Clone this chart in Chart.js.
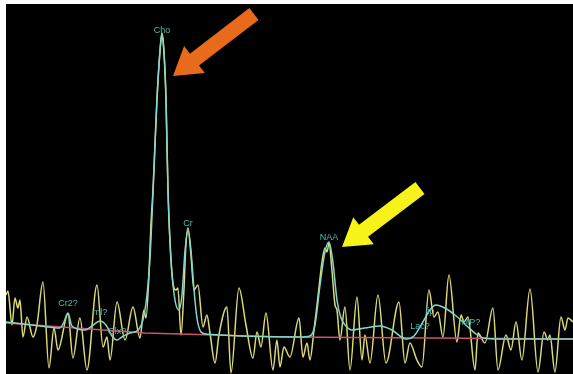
<!DOCTYPE html>
<html>
<head>
<meta charset="utf-8">
<script src="https://cdn.jsdelivr.net/npm/chart.js@4.4.1/dist/chart.umd.min.js"></script>
<style>
  html, body { margin: 0; padding: 0; background: #fff; }
  #wrap { position: absolute; left: 6px; top: 4px; width: 567px; height: 370px; background: #000; }
</style>
</head>
<body>
<div id="wrap"><canvas id="spectro" width="567" height="370"></canvas></div>
<script>
// spectrum, chemical shift in ppm (axis runs high -> low)
const rawPpm = [4.314, 4.300, 4.271, 4.250, 4.229, 4.214, 4.193, 4.164, 4.121, 4.093, 4.050, 4.007, 3.971, 3.943, 3.871, 3.836, 3.786, 3.736, 3.664, 3.621, 3.593, 3.571, 3.521, 3.464, 3.407, 3.357, 3.329, 3.314, 3.293, 3.279, 3.264, 3.250, 3.236, 3.221, 3.207, 3.200, 3.193, 3.179, 3.171, 3.164, 3.157, 3.143, 3.121, 3.100, 3.086, 3.064, 3.043, 3.029, 3.014, 2.993, 2.971, 2.943, 2.907, 2.879, 2.857, 2.821, 2.793, 2.736, 2.707, 2.650, 2.600, 2.550, 2.521, 2.493, 2.457, 2.407, 2.379, 2.357, 2.329, 2.286, 2.221, 2.193, 2.164, 2.143, 2.114, 2.086, 2.057, 2.036, 2.021, 2.007, 1.986, 1.964, 1.950, 1.929, 1.893, 1.857, 1.807, 1.771, 1.750, 1.714, 1.657, 1.600, 1.507, 1.464, 1.429, 1.379, 1.343, 1.293, 1.257, 1.229, 1.193, 1.150, 1.093, 1.064, 1.043, 1.014, 0.964, 0.943, 0.893, 0.836, 0.800, 0.743, 0.707, 0.671, 0.629, 0.571, 0.514, 0.471, 0.443, 0.429, 0.393, 0.350, 0.321, 0.300, 0.264];
const rawAmp = [44, 48, 14, 41, 31, 39, 2, 22, 2, 14, 57, -29, 11, -11, 25, -19, 21, -31, 54, -8, 2, -21, 37, -1, 32, 1, 29, 21, 64, 114, 149, 194, 239, 274, 299, 306, 299, 269, 239, 194, 149, 99, 56, 49, 51, 4, 49, 94, 111, 84, 49, 54, 12, 24, 6, -24, 4, 32, -34, 51, 14, -19, 7, -8, 26, -31, -1, -28, -8, -18, 21, -18, -4, -21, 9, 42, 77, 91, 87, 96, 69, 34, 29, -1, 32, -31, 42, -21, 4, -24, 44, -24, 37, -24, -4, -21, -28, 49, 22, 27, 2, 64, -3, 24, 17, 22, -31, 6, -4, 31, -31, 4, -11, 17, -21, 50, -33, 7, -1, 4, -33, 22, 9, 21, 17];

// fitted model
const fitPpm = [4.314, 4.071, 3.929, 3.900, 3.871, 3.843, 3.750, 3.700, 3.643, 3.600, 3.557, 3.521, 3.486, 3.429, 3.371, 3.336, 3.307, 3.286, 3.264, 3.236, 3.214, 3.200, 3.186, 3.171, 3.157, 3.136, 3.107, 3.079, 3.057, 3.036, 3.014, 2.993, 2.971, 2.950, 2.921, 2.886, 2.786, 2.643, 2.214, 2.143, 2.107, 2.071, 2.036, 2.007, 1.979, 1.950, 1.921, 1.886, 1.843, 1.750, 1.643, 1.557, 1.457, 1.400, 1.336, 1.286, 1.243, 1.179, 1.107, 1.014, 0.957, 0.900, 0.786, 0.264];
const fitAmp = [17, 13, 11, 17, 26, 13, 9, 13, 18, 14, 3, -1, 2, 6, 9, 19, 44, 79, 146, 239, 289, 305, 289, 239, 149, 79, 39, 29, 44, 87, 109, 89, 49, 21, 7, 5, 4, 3, 2, 3, 14, 54, 87, 97, 77, 39, 21, 13, 9, 11, 13, 9, 0, 3, 17, 29, 34, 31, 24, 12, 5, 1, 0, 0];

// baseline
const basePpm = [4.314, 3.321, 2.321, 0.264];
const baseAmp = [16, 6, 2, 0];

// metabolite labels
const peakNames = ["Cho", "Cr", "NAA", "Cr2?", "ml?", "Glx?", "lip", "Lac?", "MP?"];
const peakPpm = [3.200, 3.014, 2.007, 3.871, 3.643, 3.521, 1.286, 1.357, 0.993];
const peakAmp = [308, 115, 101, 35, 26, 7, 27, 12, 16];

// arrows: tail -> tip
const arrowTail = [[2.543, 325], [1.357, 151]];
const arrowTip = [[3.121, 263], [1.914, 92]];
const arrowColors = ["#ea6a1c", "#f7f21a"];

const toXY = (xs, ys) => xs.map((x, i) => ({ x: x, y: ys[i] }));

const overlay = {
  id: "overlay",
  afterDatasetsDraw(chart) {
    const { ctx, scales } = chart;
    const sx = scales.x, sy = scales.y;
    ctx.save();
    ctx.font = "9px 'Liberation Sans', Arial, sans-serif";
    ctx.fillStyle = "#4fbcb6";
    ctx.textAlign = "center";
    ctx.textBaseline = "middle";
    peakNames.forEach((n, i) => {
      ctx.fillText(n, sx.getPixelForValue(peakPpm[i]), sy.getPixelForValue(peakAmp[i]));
    });
    arrowTail.forEach((t, i) => {
      const x0 = sx.getPixelForValue(t[0]), y0 = sy.getPixelForValue(t[1]);
      const x1 = sx.getPixelForValue(arrowTip[i][0]), y1 = sy.getPixelForValue(arrowTip[i][1]);
      const len = Math.hypot(x1 - x0, y1 - y0);
      const ux = (x1 - x0) / len, uy = (y1 - y0) / len;
      const nx = -uy, ny = ux;
      const shaft = 7.5, head = 17, headLen = 27;
      const bx = x1 - ux * headLen, by = y1 - uy * headLen;
      ctx.beginPath();
      ctx.moveTo(x0 + nx * shaft, y0 + ny * shaft);
      ctx.lineTo(bx + nx * shaft, by + ny * shaft);
      ctx.lineTo(bx + nx * head, by + ny * head);
      ctx.lineTo(x1, y1);
      ctx.lineTo(bx - nx * head, by - ny * head);
      ctx.lineTo(bx - nx * shaft, by - ny * shaft);
      ctx.lineTo(x0 - nx * shaft, y0 - ny * shaft);
      ctx.closePath();
      ctx.fillStyle = arrowColors[i];
      ctx.fill();
    });
    ctx.restore();
  }
};

new Chart(document.getElementById("spectro"), {
  type: "line",
  data: {
    datasets: [
      {
        label: "fit",
        data: toXY(fitPpm, fitAmp),
        borderColor: "#82d8ce",
        borderWidth: 1.5,
        cubicInterpolationMode: "monotone",
        order: 0
      },
      {
        label: "baseline",
        data: toXY(basePpm, baseAmp),
        borderColor: "#cc5470",
        borderWidth: 1.5,
        order: 1
      },
      {
        label: "spectrum",
        data: toXY(rawPpm, rawAmp),
        borderColor: "#dcda78",
        borderWidth: 1.5,
        cubicInterpolationMode: "monotone",
        order: 2
      }
    ]
  },
  options: {
    responsive: false,
    animation: false,
    events: [],
    elements: { point: { radius: 0 } },
    layout: { padding: 0 },
    plugins: { legend: { display: false }, tooltip: { enabled: false } },
    scales: {
      x: { type: "linear", reverse: true, min: 0.264, max: 4.314, display: false },
      y: { type: "linear", min: -35, max: 335, display: false }
    }
  },
  plugins: [overlay]
});
</script>
</body>
</html>
